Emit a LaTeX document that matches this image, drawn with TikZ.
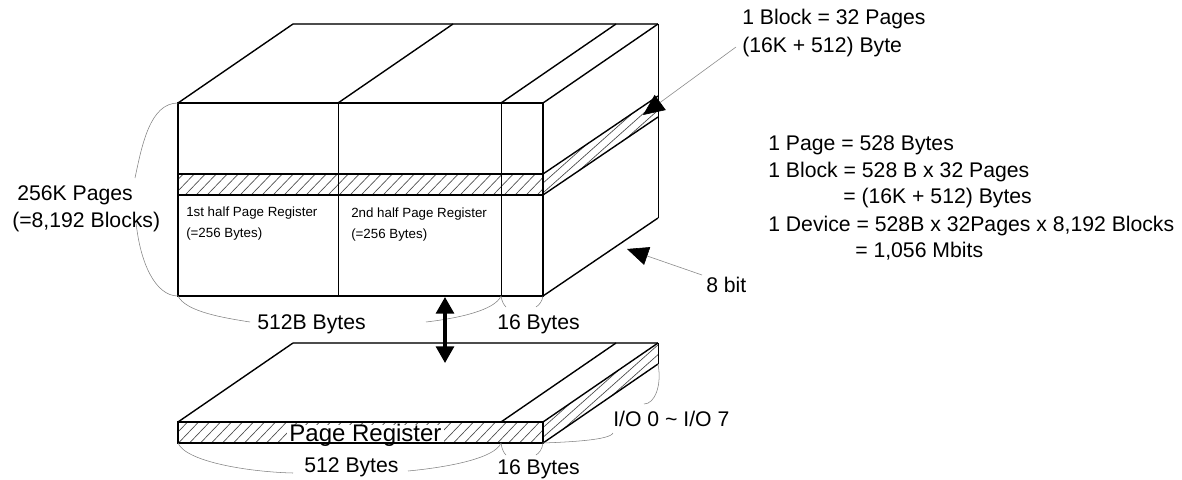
\documentclass[tikz,border=0pt]{standalone}
\usepackage{fontspec}
\setmainfont{Liberation Sans}
\usetikzlibrary{arrows.meta}
\newcommand{\hatchlines}[1]{\foreach \k in {-30,...,55}{\draw[hatchline] ({11*\k},480) -- ({11*\k+#1},0);}}
\tikzset{
  heavy/.style={line width=1.7pt,black},
  medium/.style={line width=1.05pt,black},
  fine/.style={line width=0.65pt,black},
  backedge/.style={line width=1.1pt,black!70},
  hatchline/.style={line width=0.5pt,black!70},
  brace/.style={line width=0.4pt,black!50},
  big/.style={inner sep=0pt,anchor=base west,font=\fontsize{15.9pt}{16pt}\selectfont},
  small/.style={inner sep=0pt,anchor=base west,font=\fontsize{10pt}{10pt}\selectfont},
  leader/.style={line width=0.45pt,black!45,-{Triangle[black,length=16pt,width=14pt]}},
  bothways/.style={line width=2.3pt,black,{Triangle[length=12.5pt,width=13.5pt]}-{Triangle[length=12.5pt,width=13.5pt]}}
}
\begin{document}
\begin{tikzpicture}[x=0.75pt,y=-0.75pt]
\useasboundingbox[fill=white] (0,0) rectangle (1182,479);
% corners
\coordinate (ftl) at (178,103); \coordinate (ftm) at (338,103); \coordinate (ftn) at (501,103); \coordinate (ftr) at (543,103);
\coordinate (fbl) at (178,296); \coordinate (fbm) at (338,296); \coordinate (fbn) at (501,296); \coordinate (fbr) at (543,296);
\coordinate (btl) at (293,24); \coordinate (btm) at (453,24); \coordinate (btn) at (616,24); \coordinate (btr) at (658,24);
\coordinate (bbr) at (658,218);
\coordinate (bandtl) at (178,174); \coordinate (bandtr) at (543,174);
\coordinate (bandbl) at (178,195); \coordinate (bandbr) at (543,195);
\coordinate (bandtb) at (658,96); \coordinate (bandbb) at (658,117);
% plate corners
\coordinate (ptl) at (178,422); \coordinate (ptn) at (501,422); \coordinate (ptr) at (543,422);
\coordinate (pbl) at (178,443); \coordinate (pbn) at (501,443); \coordinate (pbr) at (543,443);
\coordinate (qtl) at (293,343); \coordinate (qtn) at (616,343); \coordinate (qtr) at (658,343); \coordinate (qbr) at (658,364);
% hatching
\begin{scope}\clip (bandtl) rectangle (bandbr); \hatchlines{460}\end{scope}
\begin{scope}\clip (bandtr) -- (bandtb) -- (bandbb) -- (bandbr) -- cycle; \hatchlines{540}\end{scope}
\begin{scope}\clip (ptl) rectangle (pbr); \hatchlines{460}\end{scope}
\begin{scope}\clip (ptr) -- (qtr) -- (qbr) -- (pbr) -- cycle; \hatchlines{540}\end{scope}
% upper block
\draw[fine] (ftm) -- (fbm);
\draw[fine] (ftn) -- (fbn);
\draw[heavy] (ftl) rectangle (fbr);
\draw[heavy] (bandtl) -- (bandtr);
\draw[heavy] (bandbl) -- (bandbr);
\draw[backedge] (btl) -- (btr);
\draw[medium] (ftl) -- (btl);
\draw[medium] (ftm) -- (btm);
\draw[medium] (ftn) -- (btn);
\draw[medium] (ftr) -- (btr);
\draw[fine] (btr) -- (bbr);
\draw[medium] (bbr) -- (fbr);
\draw[medium] (bandtr) -- (bandtb);
\draw[medium] (bandbr) -- (bandbb);
% plate
\draw[heavy] (ptl) rectangle (pbr);
\draw[backedge] (qtl) -- (qtr);
\draw[medium] (ptl) -- (qtl);
\draw[medium] (ptn) -- (qtn);
\draw[medium] (ptr) -- (qtr);
\draw[fine] (qtr) -- (qbr);
\draw[medium] (qbr) -- (pbr);
% labels
\node[big,fill=white,inner xsep=2pt,text height=12pt,text depth=0.7pt,font=\fontsize{18pt}{18pt}\selectfont] (pagereg) at (286.5,441) {Page Register};
\node[big] (pages1) at (17,200) {256K Pages};
\node[big] (pages2) at (12,227) {(=8,192 Blocks)};
\node[small] (half1a) at (186,216) {1st half Page Register};
\node[small] (half1b) at (186,237) {(=256 Bytes)};
\node[small] (half2a) at (351,217) {2nd half Page Register};
\node[small] (half2b) at (351,238) {(=256 Bytes)};
\node[big] (b512b) at (257,329) {512B Bytes};
\node[big] (b16a) at (497,329) {16 Bytes};
\node[big] (b512) at (304,472) {512 Bytes};
\node[big] (b16b) at (497,474) {16 Bytes};
\node[big] (io) at (613,426) {I/O 0 \char`\~{} I/O 7};
\node[big] (eight) at (706,292) {8 bit};
\node[big] (blk1) at (742,24) {1 Block = 32 Pages};
\node[big] (blk2) at (742,52) {(16K + 512) Byte};
\node[big] (s1) at (768,150) {1 Page = 528 Bytes};
\node[big] (s2) at (768,177) {1 Block = 528 B x 32 Pages};
\node[big] (s3) at (843,203) {= (16K + 512) Bytes};
\node[big] (s4) at (768,231) {1 Device = 528B x 32Pages x 8,192 Blocks};
\node[big] (s5) at (855,257) {= 1,056 Mbits};
% brace curves
\coordinate (la) at (135,178); \coordinate (lb) at (136,222);
\coordinate (ua) at (250,322); \coordinate (ub) at (426,322);
\coordinate (uc) at (506,307); \coordinate (ud) at (536,307);
\coordinate (da) at (293,473); \coordinate (db) at (408,471);
\coordinate (dc) at (506,455); \coordinate (dd) at (536,455);
\coordinate (ia) at (613,433); \coordinate (ib) at (644,404);
\draw[brace] (ftl) .. controls (150,103) and (142,145) .. (la);
\draw[brace] (lb) .. controls (140,262) and (155,296) .. (fbl);
\draw[brace] (fbl) .. controls (186,312) and (225,318) .. (ua);
\draw[brace] (ub) .. controls (460,318) and (495,310) .. (fbn);
\draw[brace] (fbn) .. controls (502,302) and (504,305) .. (uc);
\draw[brace] (ud) .. controls (539,305) and (542,302) .. (fbr);
\draw[brace] (pbl) .. controls (186,462) and (250,472) .. (da);
\draw[brace] (db) .. controls (450,467) and (495,458) .. (pbn);
\draw[brace] (pbn) .. controls (502,450) and (504,453) .. (dc);
\draw[brace] (dd) .. controls (539,453) and (542,450) .. (pbr);
\draw[brace] (pbr) .. controls (570,442) and (610,440) .. (ia);
\draw[brace] (qbr) .. controls (662,385) and (655,404) .. (ib);
% leaders and arrows
\coordinate (lfrom) at (736,47); \coordinate (lto) at (643,115);
\coordinate (efrom) at (702,275); \coordinate (eto) at (627,249);
\coordinate (datatop) at (445,297); \coordinate (databot) at (445,363);
\draw[leader] (lfrom) -- (lto);
\draw[leader] (efrom) -- (eto);
\draw[bothways] (datatop) -- (databot);
\end{tikzpicture}
\end{document}
